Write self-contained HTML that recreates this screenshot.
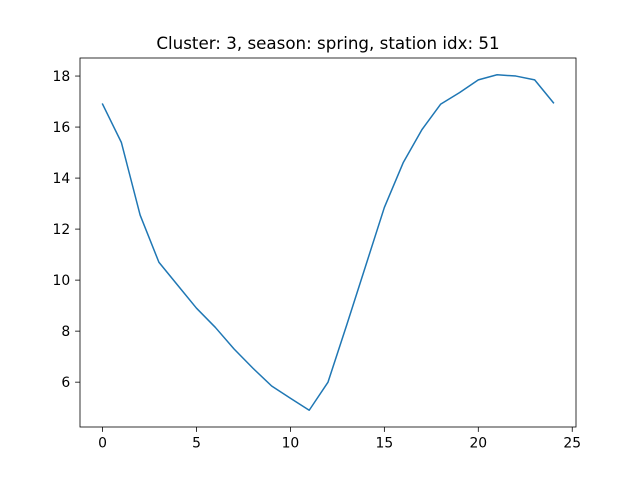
<!DOCTYPE html>
<html><head><meta charset="utf-8"><style>
body{margin:0;background:#fff;}
svg text{font-family:"DejaVu Sans","Liberation Sans",sans-serif;fill:#000;}
</style></head><body>
<svg id="chart" width="640" height="480" xmlns="http://www.w3.org/2000/svg">
<rect width="640" height="480" fill="#fff"/>
<text x="328" y="49" font-size="16.7" text-anchor="middle">Cluster: 3, season: spring, station idx: 51</text>
<g id="axes"></g>
</svg>
<script>
const hours = [0,1,2,3,4,5,6,7,8,9,10,11,12,13,14,15,16,17,18,19,20,21,22,23,24];
const values = [16.9,15.4,12.55,10.7,9.8,8.9,8.15,7.3,6.55,5.85,5.37,4.9,6.0,8.25,10.55,12.85,14.6,15.9,16.9,17.35,17.85,18.05,18.0,17.85,16.95];
const xTicks = [0,5,10,15,20,25];
const yTicks = [6,8,10,12,14,16,18];

const L=80,R=576,T=58,B=427;
const xMin=-1.2,xMax=25.2;
const vMin=Math.min(...values), vMax=Math.max(...values), pad=(vMax-vMin)*0.05;
const yMin=vMin-pad, yMax=vMax+pad;
const sx=v=>L+(v-xMin)/(xMax-xMin)*(R-L);
const sy=v=>B-(v-yMin)/(yMax-yMin)*(B-T);
const NS="http://www.w3.org/2000/svg";
const g=document.getElementById('axes');
function mk(tag,attrs){const e=document.createElementNS(NS,tag);for(const k in attrs)e.setAttribute(k,attrs[k]);g.appendChild(e);return e;}

const d=hours.map((h,i)=>(i?'L':'M')+sx(h).toFixed(2)+','+sy(values[i]).toFixed(2)).join(' ');
const line=mk('path',{d:d,fill:'none',stroke:'#1f77b4','stroke-width':1.5,'stroke-linejoin':'round','stroke-linecap':'square'});



const frame=mk('rect',{x:L,y:T,width:R-L,height:B-T,fill:'none',stroke:'#000','stroke-width':0.8});



xTicks.forEach(t=>{
  const x=sx(t);
  const tk=mk('line',{x1:x,x2:x,y1:B,y2:B+4.9,stroke:'#000','stroke-width':0.8});
  
  
  const lb=mk('text',{x:x,y:B+20.5,'font-size':13.9,'text-anchor':'middle'});
  lb.textContent=t;
  
  
});
yTicks.forEach(t=>{
  const y=sy(t);
  const tk=mk('line',{x1:L-4.9,x2:L,y1:y,y2:y,stroke:'#000','stroke-width':0.8});
  
  
  const lb=mk('text',{x:L-9.8,y:y+5,'font-size':13.9,'text-anchor':'end'});
  lb.textContent=t;
  
  
});
</script>
</body></html>
